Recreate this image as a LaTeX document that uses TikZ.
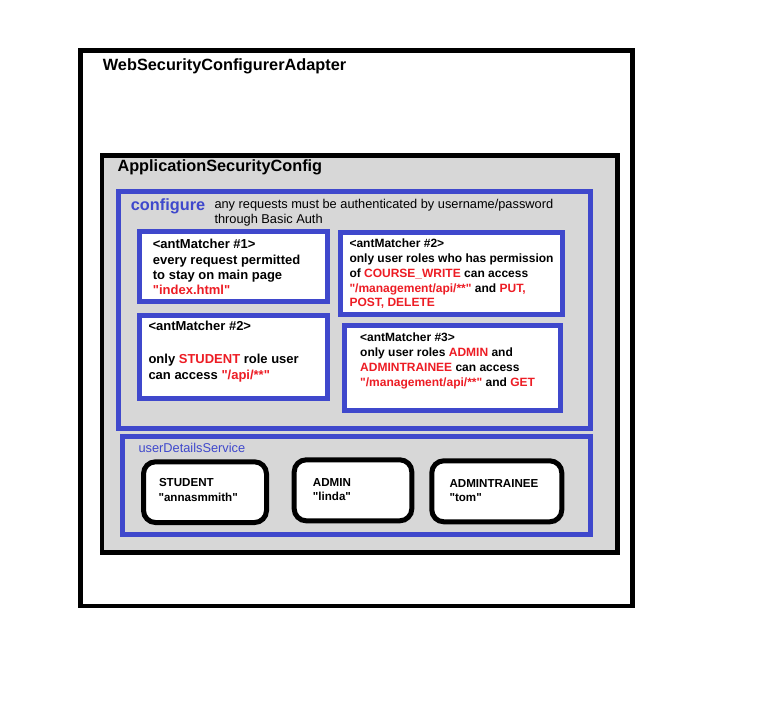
\documentclass[tikz,border=0pt]{standalone}
\usepackage{fontspec}
\setmainfont{Liberation Sans}[Ligatures=TeXOff]
\definecolor{pblue}{RGB}{63,72,204}
\definecolor{pred}{RGB}{237,28,36}
\definecolor{pgray}{RGB}{215,215,215}
\newcommand{\rd}[1]{\textcolor{pred}{#1}}
\tikzset{
  frame/.style={draw=black, line width=4.5pt, fill=white, inner sep=0pt, outer sep=0pt},
  grayframe/.style={draw=black, line width=4.5pt, fill=pgray, inner sep=0pt, outer sep=0pt},
  bluebox/.style={draw=pblue, line width=5pt, inner sep=0pt, outer sep=0pt},
  whitebox/.style={draw=pblue, line width=5pt, fill=white, inner sep=0pt, outer sep=0pt},
  userbox/.style={draw=black, line width=5pt, fill=white, rounded corners=12pt, inner sep=0pt, outer sep=0pt},
  title/.style={anchor=base west, inner sep=0pt, font=\bfseries\fontsize{16.3}{19}\selectfont},
  plain/.style={anchor=base west, inner sep=0pt, font=\fontsize{12.8}{15}\selectfont},
  bigtxt/.style={anchor=base west, inner sep=0pt, font=\bfseries\fontsize{13}{15}\selectfont},
  smalltxt/.style={anchor=base west, inner sep=0pt, font=\bfseries\fontsize{12}{15}\selectfont},
  usertxt/.style={anchor=base west, inner sep=0pt, font=\bfseries\fontsize{11.6}{15}\selectfont},
}
\begin{document}
\begin{tikzpicture}[x=1pt,y=-1pt]
\fill[white] (0,0) rectangle (758,710);
\useasboundingbox (0,0) rectangle (758,710);

% boxes
\node[frame, minimum width=552pt, minimum height=555.7pt] (outer) at (356.5,328.35) {};
\node[grayframe, minimum width=515.7pt, minimum height=397pt] (app) at (359.65,354) {};
\node[bluebox, minimum width=472.3pt, minimum height=236.2pt] (conf) at (354.65,309.9) {};
\node[whitebox, minimum width=187.7pt, minimum height=70pt] (m1) at (233.65,266.5) {};
\node[whitebox, minimum width=221.7pt, minimum height=81.7pt] (m2) at (451.65,273.35) {};
\node[whitebox, minimum width=187.7pt, minimum height=82.4pt] (m2b) at (233.65,357) {};
\node[whitebox, minimum width=216pt, minimum height=84.4pt] (m3) at (452.8,368) {};
\node[bluebox, minimum width=468.3pt, minimum height=97.7pt] (uds) at (356.65,485.35) {};
\node[userbox, minimum width=123pt, minimum height=60.7pt] (ustudent) at (205,492.15) {};
\node[userbox, minimum width=117.6pt, minimum height=61pt] (uadmin) at (353,490.3) {};
\node[userbox, minimum width=130pt, minimum height=61pt] (utrainee) at (496.8,491.3) {};

% titles
\node[title] (t1) at (102.7,70) {WebSecurityConfigurerAdapter};
\node[title] (t2) at (117.3,171.7) {ApplicationSecurityConfig};
\node[title, text=pblue] (t3) at (130.7,210) {configure};
\node[plain] (c1) at (214.3,208.3) {any requests must be authenticated by username/password};
\node[plain] (c2) at (214.3,223.3) {through Basic Auth};

% antMatcher #1
\node[bigtxt] (a1) at (152.7,248.3) {<antMatcher \#1>};
\node[bigtxt] (a2) at (152.7,264) {every request permitted};
\node[bigtxt] (a3) at (152.7,279.3) {to stay on main page};
\node[bigtxt] (a4) at (152.7,294) {\rd{"index.html"}};

% antMatcher #2 (top right)
\node[smalltxt] (b1) at (349.3,247.5) {<antMatcher \#2>};
\node[smalltxt] (b2) at (349.3,262.5) {only user roles who has permission};
\node[smalltxt] (b3) at (349.3,277.5) {of \rd{COURSE\_WRITE} can access};
\node[smalltxt] (b4) at (349.3,292) {\rd{"/management/api/**"} and \rd{PUT,}};
\node[smalltxt] (b5) at (349.3,306.5) {\rd{POST, DELETE}};

% antMatcher #2 (bottom left)
\node[bigtxt] (d1) at (148.3,330.7) {<antMatcher \#2>};
\node[bigtxt] (d2) at (148.3,363.3) {only \rd{STUDENT} role user};
\node[bigtxt] (d3) at (148.3,379) {can access \rd{"/api/**"}};

% antMatcher #3
\node[smalltxt] (e1) at (360,341) {<antMatcher \#3>};
\node[smalltxt] (e2) at (360,356) {only user roles \rd{ADMIN} and};
\node[smalltxt] (e3) at (360,371) {\rd{ADMINTRAINEE} can access};
\node[smalltxt] (e4) at (360,386) {\rd{"/management/api/**"} and \rd{GET}};

% userDetailsService
\node[plain, text=pblue] (u0) at (138.3,452.7) {userDetailsService};
\node[usertxt] (s1) at (158.8,486.7) {STUDENT};
\node[usertxt] (s2) at (158.3,501.7) {"annasmmith"};
\node[usertxt] (ad1) at (312.7,486) {ADMIN};
\node[usertxt] (ad2) at (312.7,500) {"linda"};
\node[usertxt] (tr1) at (449.3,487.3) {ADMINTRAINEE};
\node[usertxt] (tr2) at (449.3,501.7) {"tom"};
\end{tikzpicture}
\end{document}
